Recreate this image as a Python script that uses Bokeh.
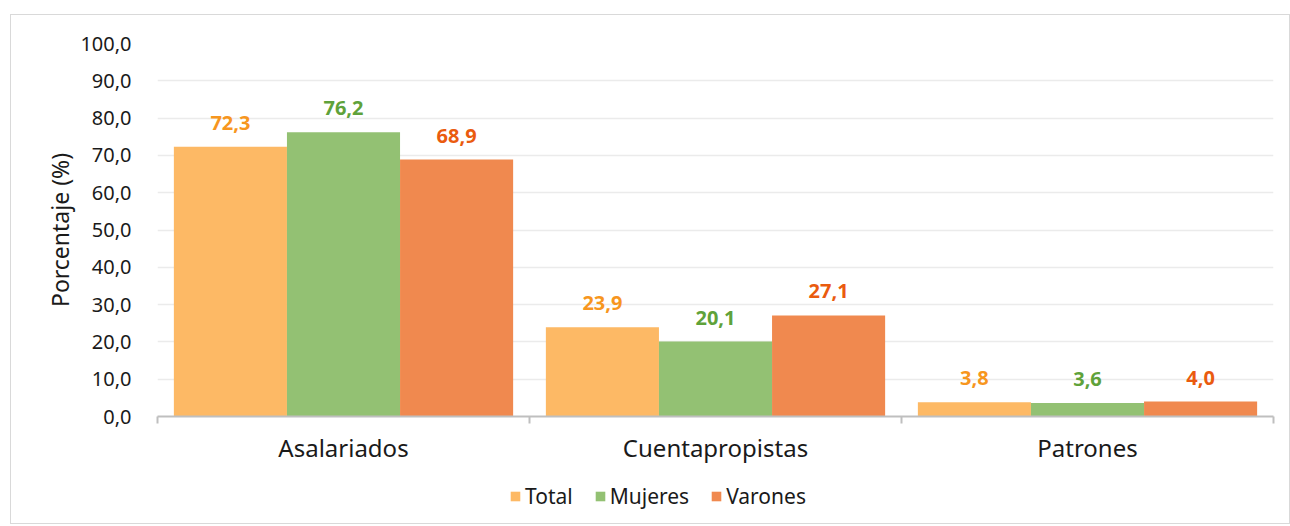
from bokeh.plotting import figure
from bokeh.layouts import column
from bokeh.models import ColumnDataSource, FixedTicker, Range1d, Legend, LegendItem
from bokeh.embed import file_html
from bokeh.resources import INLINE
from bokeh.core.properties import value

categories = ["Asalariados", "Cuentapropistas", "Patrones"]
series_names = ["Total", "Mujeres", "Varones"]
total = [72.3, 23.9, 3.8]
mujeres = [76.2, 20.1, 3.6]
varones = [68.9, 27.1, 4.0]
y_ticks = [0, 10, 20, 30, 40, 50, 60, 70, 80, 90, 100]

bar_colors = ["#FDB965", "#93C173", "#F0894F"]
label_colors = ["#F7961E", "#5FA23A", "#EA5B0F"]
FONT = "Noto Sans"
W = 1278

p = figure(width=W, height=461, output_backend="svg", toolbar_location=None,
           x_range=Range1d(0, len(categories)), y_range=Range1d(0, 100),
           min_border_left=146, min_border_right=16, min_border_top=28,
           min_border_bottom=60, background_fill_color="white",
           border_fill_color="white", outline_line_color=None)

# legend strip below the chart (frame is aligned with the main chart's frame)
p2 = figure(width=W, height=47, output_backend="svg", toolbar_location=None,
            x_range=p.x_range, y_range=Range1d(1000, 1001),
            x_axis_type=None, y_axis_type=None,
            min_border_left=0, min_border_right=0, min_border_top=0, min_border_bottom=0,
            background_fill_color="white", border_fill_color="white",
            outline_line_color=None)
p2.xgrid.grid_line_color = None
p2.ygrid.grid_line_color = None

width = 0.304
offsets = [-width, 0.0, width]
proxies = []
for vals, off, bc, lc in zip([total, mujeres, varones], offsets, bar_colors, label_colors):
    xs = [i + 0.5 + off for i in range(len(categories))]
    src = ColumnDataSource(dict(x=xs, top=vals,
                                lab=[f"{v:.1f}".replace(".", ",") for v in vals]))
    p.vbar(x="x", top="top", width=width, bottom=0, source=src,
           fill_color=bc, line_color=None)
    p.text(x="x", y="top", text="lab", source=src, text_align="center",
           text_baseline="middle", y_offset=-24, text_color=lc,
           text_font=value(FONT), text_font_size="20px", text_font_style="bold")
    # same bars in the legend strip (outside its visible y range) for legend swatches
    proxies.append(p2.vbar(x="x", top="top", width=width, bottom=0, source=src,
                           fill_color=bc, line_color=None))

centers = [i + 0.5 for i in range(len(categories))]
bounds = [float(i) for i in range(len(categories) + 1)]
p.xaxis.ticker = FixedTicker(ticks=centers, minor_ticks=bounds)
p.xaxis.major_label_overrides = {c: name for c, name in zip(centers, categories)}
p.xaxis.major_tick_line_color = None
p.xaxis.minor_tick_line_color = "#BFBFBF"
p.xaxis.minor_tick_line_width = 2
p.xaxis.minor_tick_out = 7
p.xaxis.minor_tick_in = 0
p.xaxis.axis_line_color = "#BFBFBF"
p.xaxis.axis_line_width = 2
p.xaxis.major_label_text_font = FONT
p.xaxis.major_label_text_font_size = "24px"
p.xaxis.major_label_text_color = "#1a1a1a"
p.xaxis.major_label_standoff = 7
p.xgrid.grid_line_color = None

p.yaxis.ticker = FixedTicker(ticks=y_ticks)
p.yaxis.major_label_overrides = {t: f"{t:.1f}".replace(".", ",") for t in y_ticks}
p.yaxis.axis_line_color = None
p.yaxis.major_tick_line_color = None
p.yaxis.minor_tick_line_color = None
p.yaxis.major_label_standoff = 20
p.yaxis.major_label_text_font = FONT
p.yaxis.major_label_text_font_size = "20px"
p.yaxis.major_label_text_color = "#1a1a1a"
p.yaxis.axis_label = "Porcentaje (%)"
p.yaxis.axis_label_text_font = FONT
p.yaxis.axis_label_text_font_size = "23px"
p.yaxis.axis_label_text_font_style = "normal"
p.yaxis.axis_label_text_color = "#1a1a1a"
p.yaxis.axis_label_standoff = 1
p.ygrid.grid_line_color = "#EBEBEB"
p.ygrid.grid_line_width = 1.5

legend = Legend(items=[LegendItem(label=n, renderers=[r]) for n, r in zip(series_names, proxies)],
                orientation="horizontal", location=(352, 13),
                label_text_font=FONT, label_text_font_size="21px", label_text_color="#1a1a1a",
                glyph_width=12, glyph_height=12, label_standoff=4, spacing=21,
                padding=0, margin=0, border_line_color=None, background_fill_alpha=0)
p2.add_layout(legend, "center")

layout = column(p, p2, spacing=0)
layout.styles = {"border": "1px solid #D9D9D9", "margin-left": "10px", "margin-top": "14px"}

open("out.html", "w").write(file_html(layout, INLINE))
